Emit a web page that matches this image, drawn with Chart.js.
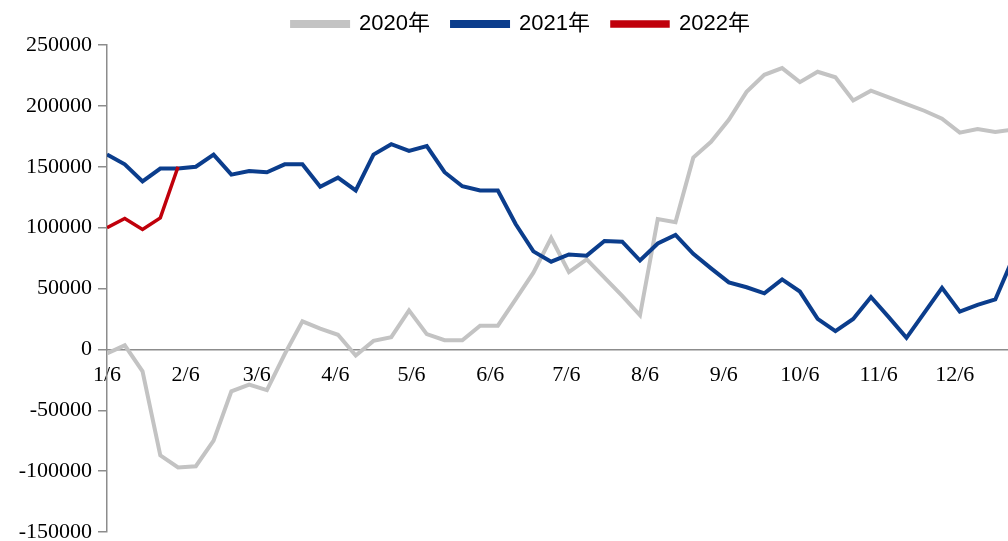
<!DOCTYPE html>
<html>
<head>
<meta charset="utf-8">
<script src="https://cdn.jsdelivr.net/npm/chart.js@4/dist/chart.umd.min.js"></script>
<style>
  html, body { margin: 0; padding: 0; background: #ffffff; }
  #wrap { width: 1008px; height: 541px; position: relative; }
</style>
</head>
<body>
<div id="wrap"><canvas id="chart" width="1008" height="541"></canvas></div>
<script>
// Weekly observations, first week starting 1/6; x is the day offset from 1/6.
const weekCount = 52;
const weekDays = [];
for (let i = 0; i < weekCount; i++) weekDays.push(i * 7);

// Month ticks on the 6th of each month (day offsets from 1/6)
const tickDays = [0, 31, 59, 90, 120, 151, 181, 212, 243, 273, 304, 334];
const tickLabels = ['1/6', '2/6', '3/6', '4/6', '5/6', '6/6', '7/6', '8/6', '9/6', '10/6', '11/6', '12/6'];

const seriesNames = ['2020年', '2021年', '2022年'];

const values2020 = [
  -3300, 3300, -18000, -87000, -97000, -96000, -75000, -34500, -29000, -33500,
  -4000, 23000, 17000, 12000, -5000, 7000, 10000, 32000, 12500, 7500,
  7500, 19500, 19500, 41000, 63000, 91500, 63500, 74000, 59000, 44000,
  28000, 107000, 104500, 157500, 170500, 188500, 211500, 225500, 231000, 219500,
  228000, 223500, 204500, 212500, 207000, 201500, 196000, 189500, 178000, 181000,
  178500, 180500
];

const values2021 = [
  160000, 152000, 138000, 148500, 148500, 150000, 160000, 143500, 146500, 145500,
  152000, 152000, 133500, 141000, 130500, 160000, 168500, 163000, 167000, 145500,
  134000, 130500, 130500, 103000, 80500, 72000, 78000, 77000, 89000, 88500,
  73000, 87000, 94000, 78500, 66500, 55000, 51000, 46000, 57500, 47500,
  25000, 15000, 25000, 43000, 26500, 9500, 30000, 50500, 31000, 36500,
  41000, 75000
];

const values2022 = [100000, 107500, 98500, 108000, 150000];

const colors = ['#c3c3c3', '#0b3d8c', '#c0000b'];
const widths = [4, 4, 3.5];

function toPoints(vals) {
  return vals.map((v, i) => ({ x: weekDays[i], y: v }));
}

const allValues = [values2020, values2021, values2022];
const datasets = allValues.map((vals, k) => ({
  label: seriesNames[k],
  data: toPoints(vals),
  borderColor: colors[k],
  backgroundColor: colors[k],
  borderWidth: widths[k],
  pointRadius: 0,
  pointHoverRadius: 0,
  tension: 0,
  fill: false,
  order: 3 - k
}));

const axisColor = '#8c8c8c';
const serif = "'Liberation Serif', 'Times New Roman', serif";
const plotLeft = 107;
const legendShift = 34;

// Centre the legend over the plot rather than the whole canvas
const legendOffset = {
  id: 'legendOffset',
  afterLayout(chart) {
    if (chart.legend) chart.legend.left += legendShift;
  }
};

new Chart(document.getElementById('chart'), {
  type: 'line',
  data: { datasets },
  plugins: [legendOffset],
  options: {
    responsive: false,
    animation: false,
    events: [],
    layout: { padding: { left: 0, right: 0, top: -9, bottom: 9 } },
    plugins: {
      tooltip: { enabled: false },
      legend: {
        display: true,
        position: 'top',
        align: 'center',
        labels: {
          boxWidth: 56,
          boxHeight: 4,
          padding: 22,
          color: '#000000',
          font: { family: "'Liberation Sans', Arial, 'Noto Sans CJK SC', sans-serif", size: 22 },
          sort: (a, b) => a.datasetIndex - b.datasetIndex
        }
      }
    },
    scales: {
      x: {
        type: 'linear',
        position: { y: 0 },
        min: 0,
        max: 355,
        afterBuildTicks: (scale) => { scale.ticks = tickDays.map(v => ({ value: v })); },
        ticks: {
          autoSkip: false,
          maxRotation: 0,
          padding: 13,
          color: '#000000',
          font: { family: serif, size: 22 },
          callback: (value, index) => tickLabels[index]
        },
        grid: { display: false, drawTicks: false },
        border: { display: true, color: axisColor, width: 1.5 }
      },
      y: {
        type: 'linear',
        min: -150000,
        max: 250000,
        afterFit: (scale) => {
          scale.width = plotLeft;
          scale.paddingTop = 0;
          scale.paddingBottom = 0;
        },
        ticks: {
          stepSize: 50000,
          padding: 6,
          color: '#000000',
          font: { family: serif, size: 22 },
          callback: (v) => String(v)
        },
        grid: {
          display: true,
          drawOnChartArea: false,
          drawTicks: true,
          tickLength: 9,
          color: axisColor,
          lineWidth: 1.5
        },
        border: { display: true, color: axisColor, width: 1.5 }
      }
    }
  }
});
</script>
</body>
</html>
